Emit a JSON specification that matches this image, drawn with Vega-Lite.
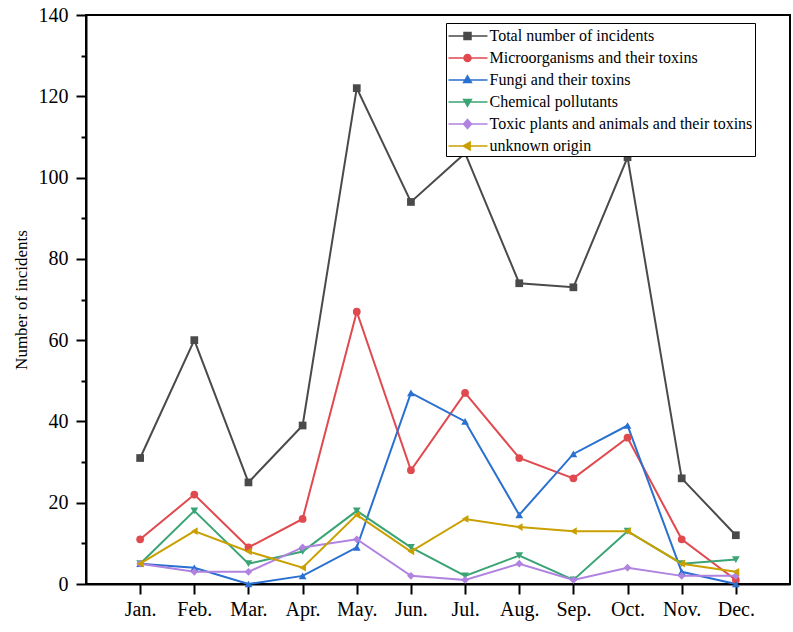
{
  "$schema": "https://vega.github.io/schema/vega-lite/v6.json",
  "width": 704,
  "height": 569,
  "autosize": {"type": "none"},
  "padding": {"left": 86, "top": 15, "right": 3, "bottom": 48},
  "background": "white",
  "config": {
    "font": "Liberation Serif",
    "view": {"stroke": "black", "strokeWidth": 2},
    "axis": {
      "labelFont": "Liberation Serif",
      "titleFont": "Liberation Serif",
      "labelColor": "black",
      "titleColor": "black",
      "domainColor": "black",
      "tickColor": "black",
      "domainWidth": 2,
      "tickWidth": 2,
      "grid": false
    }
  },
  "data": {
    "values": [
      {"month": "Jan.", "series": "Total number of incidents", "value": 31},
      {"month": "Feb.", "series": "Total number of incidents", "value": 60},
      {"month": "Mar.", "series": "Total number of incidents", "value": 25},
      {"month": "Apr.", "series": "Total number of incidents", "value": 39},
      {"month": "May.", "series": "Total number of incidents", "value": 122},
      {"month": "Jun.", "series": "Total number of incidents", "value": 94},
      {"month": "Jul.", "series": "Total number of incidents", "value": 106},
      {"month": "Aug.", "series": "Total number of incidents", "value": 74},
      {"month": "Sep.", "series": "Total number of incidents", "value": 73},
      {"month": "Oct.", "series": "Total number of incidents", "value": 105},
      {"month": "Nov.", "series": "Total number of incidents", "value": 26},
      {"month": "Dec.", "series": "Total number of incidents", "value": 12},

      {"month": "Jan.", "series": "Microorganisms and their toxins", "value": 11},
      {"month": "Feb.", "series": "Microorganisms and their toxins", "value": 22},
      {"month": "Mar.", "series": "Microorganisms and their toxins", "value": 9},
      {"month": "Apr.", "series": "Microorganisms and their toxins", "value": 16},
      {"month": "May.", "series": "Microorganisms and their toxins", "value": 67},
      {"month": "Jun.", "series": "Microorganisms and their toxins", "value": 28},
      {"month": "Jul.", "series": "Microorganisms and their toxins", "value": 47},
      {"month": "Aug.", "series": "Microorganisms and their toxins", "value": 31},
      {"month": "Sep.", "series": "Microorganisms and their toxins", "value": 26},
      {"month": "Oct.", "series": "Microorganisms and their toxins", "value": 36},
      {"month": "Nov.", "series": "Microorganisms and their toxins", "value": 11},
      {"month": "Dec.", "series": "Microorganisms and their toxins", "value": 1},

      {"month": "Jan.", "series": "Fungi and their toxins", "value": 5},
      {"month": "Feb.", "series": "Fungi and their toxins", "value": 4},
      {"month": "Mar.", "series": "Fungi and their toxins", "value": 0},
      {"month": "Apr.", "series": "Fungi and their toxins", "value": 2},
      {"month": "May.", "series": "Fungi and their toxins", "value": 9},
      {"month": "Jun.", "series": "Fungi and their toxins", "value": 47},
      {"month": "Jul.", "series": "Fungi and their toxins", "value": 40},
      {"month": "Aug.", "series": "Fungi and their toxins", "value": 17},
      {"month": "Sep.", "series": "Fungi and their toxins", "value": 32},
      {"month": "Oct.", "series": "Fungi and their toxins", "value": 39},
      {"month": "Nov.", "series": "Fungi and their toxins", "value": 3},
      {"month": "Dec.", "series": "Fungi and their toxins", "value": 0},

      {"month": "Jan.", "series": "Chemical pollutants", "value": 5},
      {"month": "Feb.", "series": "Chemical pollutants", "value": 18},
      {"month": "Mar.", "series": "Chemical pollutants", "value": 5},
      {"month": "Apr.", "series": "Chemical pollutants", "value": 8},
      {"month": "May.", "series": "Chemical pollutants", "value": 18},
      {"month": "Jun.", "series": "Chemical pollutants", "value": 9},
      {"month": "Jul.", "series": "Chemical pollutants", "value": 2},
      {"month": "Aug.", "series": "Chemical pollutants", "value": 7},
      {"month": "Sep.", "series": "Chemical pollutants", "value": 1},
      {"month": "Oct.", "series": "Chemical pollutants", "value": 13},
      {"month": "Nov.", "series": "Chemical pollutants", "value": 5},
      {"month": "Dec.", "series": "Chemical pollutants", "value": 6},

      {"month": "Jan.", "series": "Toxic plants and animals and their toxins", "value": 5},
      {"month": "Feb.", "series": "Toxic plants and animals and their toxins", "value": 3},
      {"month": "Mar.", "series": "Toxic plants and animals and their toxins", "value": 3},
      {"month": "Apr.", "series": "Toxic plants and animals and their toxins", "value": 9},
      {"month": "May.", "series": "Toxic plants and animals and their toxins", "value": 11},
      {"month": "Jun.", "series": "Toxic plants and animals and their toxins", "value": 2},
      {"month": "Jul.", "series": "Toxic plants and animals and their toxins", "value": 1},
      {"month": "Aug.", "series": "Toxic plants and animals and their toxins", "value": 5},
      {"month": "Sep.", "series": "Toxic plants and animals and their toxins", "value": 1},
      {"month": "Oct.", "series": "Toxic plants and animals and their toxins", "value": 4},
      {"month": "Nov.", "series": "Toxic plants and animals and their toxins", "value": 2},
      {"month": "Dec.", "series": "Toxic plants and animals and their toxins", "value": 2},

      {"month": "Jan.", "series": "unknown origin", "value": 5},
      {"month": "Feb.", "series": "unknown origin", "value": 13},
      {"month": "Mar.", "series": "unknown origin", "value": 8},
      {"month": "Apr.", "series": "unknown origin", "value": 4},
      {"month": "May.", "series": "unknown origin", "value": 17},
      {"month": "Jun.", "series": "unknown origin", "value": 8},
      {"month": "Jul.", "series": "unknown origin", "value": 16},
      {"month": "Aug.", "series": "unknown origin", "value": 14},
      {"month": "Sep.", "series": "unknown origin", "value": 13},
      {"month": "Oct.", "series": "unknown origin", "value": 13},
      {"month": "Nov.", "series": "unknown origin", "value": 5},
      {"month": "Dec.", "series": "unknown origin", "value": 3}
    ]
  },
  "encoding": {
    "x": {
      "field": "month",
      "type": "ordinal",
      "sort": ["Jan.", "Feb.", "Mar.", "Apr.", "May.", "Jun.", "Jul.", "Aug.", "Sep.", "Oct.", "Nov.", "Dec."],
      "scale": {"type": "point", "padding": 1},
      "axis": {
        "title": null,
        "labelAngle": 0,
        "labelFontSize": 20,
        "tickSize": 10,
        "labelPadding": 5
      }
    },
    "color": {
      "field": "series",
      "type": "nominal",
      "scale": {
        "domain": ["Total number of incidents", "Microorganisms and their toxins", "Fungi and their toxins", "Chemical pollutants", "Toxic plants and animals and their toxins", "unknown origin"],
        "range": ["#4a4a4a", "#e04a4f", "#2a70d0", "#3aa475", "#b083e0", "#c9a000"]
      },
      "legend": {
        "title": null,
        "orient": "none",
        "legendX": 360,
        "legendY": 8,
        "strokeColor": "black",
        "padding": 2,
        "fillColor": "white",
        "labelFont": "Liberation Serif",
        "labelFontSize": 16,
        "labelColor": "black",
        "labelLimit": 400,
        "labelOffset": 19.5,
        "rowPadding": 3,
        "symbolSize": 400,
        "symbolStrokeWidth": 1.5,
        "encode": {
          "symbols": {
            "update": {
              "shape": {
                "signal": "datum.value === 'Total number of incidents' ? 'M-1.05,0H2.85M0.5,-0.35H1.2V0.35H0.5Z' : datum.value === 'Microorganisms and their toxins' ? 'M-1.05,0H2.85M0.5,0A0.35,0.35 0 1,0 1.2,0A0.35,0.35 0 1,0 0.5,0Z' : datum.value === 'Fungi and their toxins' ? 'M-1.05,0H2.85M0.85,-0.42L1.24,0.26H0.46Z' : datum.value === 'Chemical pollutants' ? 'M-1.05,0H2.85M0.85,0.42L1.24,-0.26H0.46Z' : datum.value === 'unknown origin' ? 'M-1.05,0H2.85M0.43,0L1.11,-0.39V0.39Z' : 'M-1.05,0H2.85M0.85,-0.45L1.25,0L0.85,0.45L0.45,0Z'"
              },
              "fill": {"signal": "scale('color', datum.value)"},
              "stroke": {"signal": "scale('color', datum.value)"}
            }
          }
        }
      }
    }
  },
  "layer": [
    {
      "mark": {"type": "line", "strokeWidth": 2},
      "encoding": {
        "y": {
          "field": "value",
          "type": "quantitative",
          "scale": {"domain": [0, 140], "nice": false},
          "axis": {
            "title": "Number of incidents",
            "titleFontSize": 17,
            "titleFontWeight": "normal",
            "titlePadding": 8,
            "labelFontSize": 20,
            "values": [0, 20, 40, 60, 80, 100, 120, 140],
            "tickSize": 10,
            "labelPadding": 8,
            "orient": "left"
          }
        }
      }
    },
    {
      "mark": {"type": "point", "filled": true, "opacity": 1, "size": 60},
      "encoding": {
        "y": {
          "field": "value",
          "type": "quantitative",
          "axis": {
            "title": null,
            "labels": false,
            "domain": false,
            "values": [10, 30, 50, 70, 90, 110, 130],
            "tickSize": 5,
            "orient": "left"
          }
        },
        "shape": {
          "field": "series",
          "type": "nominal",
          "scale": {
            "domain": ["Chemical pollutants", "Fungi and their toxins", "Microorganisms and their toxins", "Toxic plants and animals and their toxins", "Total number of incidents", "unknown origin"],
            "range": ["triangle-down", "triangle-up", "circle", "diamond", "square", "triangle-left"]
          },
          "legend": null
        }
      }
    }
  ],
  "resolve": {"axis": {"y": "independent"}}
}
